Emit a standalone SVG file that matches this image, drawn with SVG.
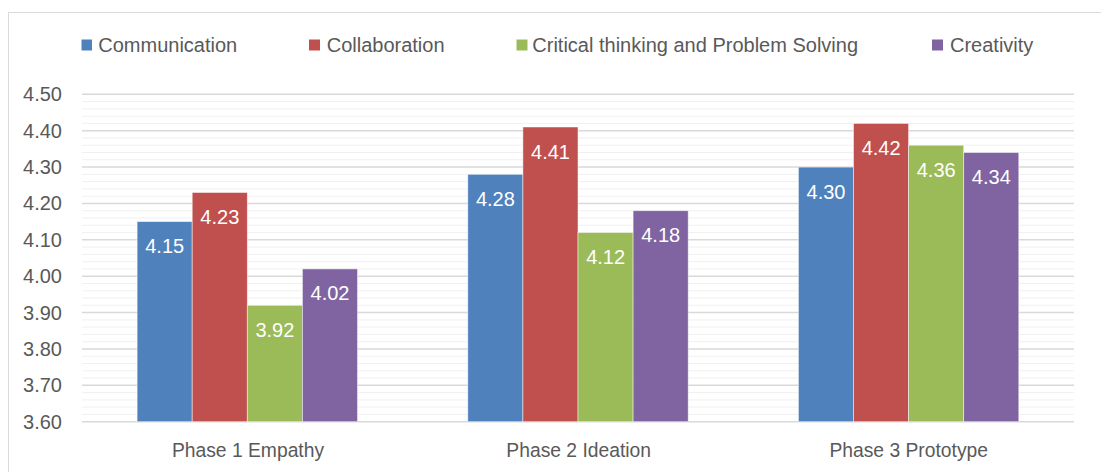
<svg xmlns="http://www.w3.org/2000/svg" width="1101" height="472" viewBox="0 0 1101 472">
<style>
text{font-family:"Liberation Sans",Arial,sans-serif;font-size:20px;fill:#595959}
.ax{text-anchor:end}
.cat{text-anchor:middle;font-size:19.3px}
.lbl{text-anchor:middle;fill:#fff}
.maj{stroke:#D9D9D9;stroke-width:1.5}
.min{stroke:#F0F0F0;stroke-width:1}
.bar{stroke:#fff;stroke-width:0.8;stroke-opacity:0.6}
.c1{fill:#4F81BD}.c2{fill:#C0504D}.c3{fill:#9BBB59}.c4{fill:#8064A2}
</style>
<rect x="0" y="0" width="1101" height="472" fill="#fff"/>
<rect x="8.5" y="12.5" width="1100" height="470" fill="#fff" stroke="#D9D9D9" stroke-width="1"/>
<g id="legend">
<rect class="c1" x="81.5" y="39.5" width="10.5" height="11"/><text x="98.3" y="51.6">Communication</text>
<rect class="c2" x="309" y="39.5" width="11" height="11"/><text x="326.7" y="51.6">Collaboration</text>
<rect class="c3" x="516.5" y="39.5" width="11" height="11"/><text x="532.3" y="51.6">Critical thinking and Problem Solving</text>
<rect class="c4" x="932" y="39.5" width="11" height="11"/><text x="950" y="51.6">Creativity</text>
</g>
<g id="gridlines">
<g class="min">
<line x1="82" y1="101.6" x2="1074" y2="101.6"/><line x1="82" y1="108.9" x2="1074" y2="108.9"/><line x1="82" y1="116.2" x2="1074" y2="116.2"/><line x1="82" y1="123.4" x2="1074" y2="123.4"/>
<line x1="82" y1="138.0" x2="1074" y2="138.0"/><line x1="82" y1="145.3" x2="1074" y2="145.3"/><line x1="82" y1="152.5" x2="1074" y2="152.5"/><line x1="82" y1="159.8" x2="1074" y2="159.8"/>
<line x1="82" y1="174.4" x2="1074" y2="174.4"/><line x1="82" y1="181.6" x2="1074" y2="181.6"/><line x1="82" y1="188.9" x2="1074" y2="188.9"/><line x1="82" y1="196.2" x2="1074" y2="196.2"/>
<line x1="82" y1="210.7" x2="1074" y2="210.7"/><line x1="82" y1="218.0" x2="1074" y2="218.0"/><line x1="82" y1="225.3" x2="1074" y2="225.3"/><line x1="82" y1="232.6" x2="1074" y2="232.6"/>
<line x1="82" y1="247.1" x2="1074" y2="247.1"/><line x1="82" y1="254.4" x2="1074" y2="254.4"/><line x1="82" y1="261.7" x2="1074" y2="261.7"/><line x1="82" y1="268.9" x2="1074" y2="268.9"/>
<line x1="82" y1="283.5" x2="1074" y2="283.5"/><line x1="82" y1="290.8" x2="1074" y2="290.8"/><line x1="82" y1="298.0" x2="1074" y2="298.0"/><line x1="82" y1="305.3" x2="1074" y2="305.3"/>
<line x1="82" y1="319.9" x2="1074" y2="319.9"/><line x1="82" y1="327.1" x2="1074" y2="327.1"/><line x1="82" y1="334.4" x2="1074" y2="334.4"/><line x1="82" y1="341.7" x2="1074" y2="341.7"/>
<line x1="82" y1="356.2" x2="1074" y2="356.2"/><line x1="82" y1="363.5" x2="1074" y2="363.5"/><line x1="82" y1="370.8" x2="1074" y2="370.8"/><line x1="82" y1="378.0" x2="1074" y2="378.0"/>
<line x1="82" y1="392.6" x2="1074" y2="392.6"/><line x1="82" y1="399.9" x2="1074" y2="399.9"/><line x1="82" y1="407.1" x2="1074" y2="407.1"/><line x1="82" y1="414.4" x2="1074" y2="414.4"/>
</g>
<g class="maj">
<line x1="82" y1="94.3" x2="1074" y2="94.3"/><line x1="82" y1="130.7" x2="1074" y2="130.7"/><line x1="82" y1="167.1" x2="1074" y2="167.1"/><line x1="82" y1="203.4" x2="1074" y2="203.4"/><line x1="82" y1="239.8" x2="1074" y2="239.8"/>
<line x1="82" y1="276.2" x2="1074" y2="276.2"/><line x1="82" y1="312.6" x2="1074" y2="312.6"/><line x1="82" y1="349.0" x2="1074" y2="349.0"/><line x1="82" y1="385.3" x2="1074" y2="385.3"/><line x1="82" y1="421.7" x2="1074" y2="421.7"/>
</g>
</g>
<g id="y-axis">
<text class="ax" x="62" y="101.3">4.50</text>
<text class="ax" x="62" y="137.7">4.40</text>
<text class="ax" x="62" y="174.1">4.30</text>
<text class="ax" x="62" y="210.4">4.20</text>
<text class="ax" x="62" y="246.8">4.10</text>
<text class="ax" x="62" y="283.2">4.00</text>
<text class="ax" x="62" y="319.6">3.90</text>
<text class="ax" x="62" y="356.0">3.80</text>
<text class="ax" x="62" y="392.3">3.70</text>
<text class="ax" x="62" y="428.7">3.60</text>
</g>
<g id="phase1">
<rect class="bar c1" x="137.1" y="221.6" width="55.1" height="200.1"/>
<rect class="bar c2" x="192.2" y="192.5" width="55.1" height="229.2"/>
<rect class="bar c3" x="247.3" y="305.3" width="55.1" height="116.4"/>
<rect class="bar c4" x="302.4" y="268.9" width="55.1" height="152.8"/>
<text class="lbl" x="164.7" y="253.1">4.15</text>
<text class="lbl" x="219.8" y="224.0">4.23</text>
<text class="lbl" x="274.9" y="336.8">3.92</text>
<text class="lbl" x="330.0" y="300.4">4.02</text>
<text class="cat" x="248" y="457.3">Phase 1 Empathy</text>
</g>
<g id="phase2">
<rect class="bar c1" x="467.8" y="174.3" width="55.1" height="247.4"/>
<rect class="bar c2" x="522.9" y="127.0" width="55.1" height="294.7"/>
<rect class="bar c3" x="578.0" y="232.5" width="55.1" height="189.2"/>
<rect class="bar c4" x="633.1" y="210.7" width="55.1" height="211.0"/>
<text class="lbl" x="495.4" y="205.8">4.28</text>
<text class="lbl" x="550.5" y="158.5">4.41</text>
<text class="lbl" x="605.6" y="264.0">4.12</text>
<text class="lbl" x="660.7" y="242.2">4.18</text>
<text class="cat" x="578.7" y="457.3">Phase 2 Ideation</text>
</g>
<g id="phase3">
<rect class="bar c1" x="798.4" y="167.1" width="55.1" height="254.6"/>
<rect class="bar c2" x="853.5" y="123.4" width="55.1" height="298.3"/>
<rect class="bar c3" x="908.6" y="145.2" width="55.1" height="276.5"/>
<rect class="bar c4" x="963.7" y="152.5" width="55.1" height="269.2"/>
<text class="lbl" x="826.0" y="198.6">4.30</text>
<text class="lbl" x="881.1" y="154.9">4.42</text>
<text class="lbl" x="936.2" y="176.7">4.36</text>
<text class="lbl" x="991.3" y="184.0">4.34</text>
<text class="cat" x="908.7" y="457.3">Phase 3 Prototype</text>
</g>
</svg>
